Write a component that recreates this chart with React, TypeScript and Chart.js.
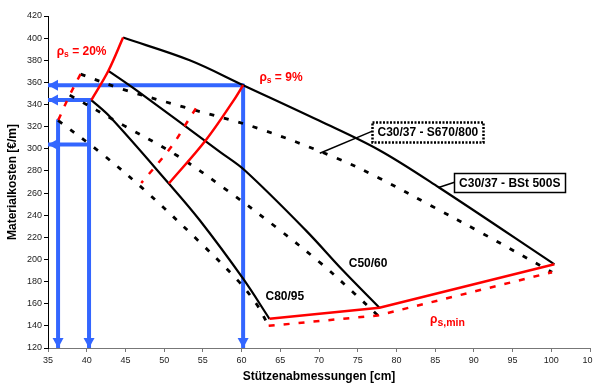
import React, { useEffect, useRef } from 'react';
import { Chart, registerables } from 'chart.js';

Chart.register(...registerables);

const FONT = "'Liberation Sans', Arial, Helvetica, sans-serif";
const RED = '#ff0000';
const BLUE = '#3366ff';

// Tick labels
const xTickValues = [35, 40, 45, 50, 55, 60, 65, 70, 75, 80, 85, 90, 95, 100, 105];
const yTickValues = [120, 140, 160, 180, 200, 220, 240, 260, 280, 300, 320, 340, 360, 380, 400, 420];

// C30/37 - BSt 500S (solid)
const c30BstX = [44.7, 53.3, 60.2, 70.0, 77.8, 85.5, 100.4];
const c30BstY = [400.5, 380.0, 357.5, 325.5, 298.7, 265.0, 195.6];
// C50/60 - BSt 500S (solid)
const c50BstX = [42.8, 46.4, 57.2, 60.4, 68.3, 73.1, 77.8];
const c50BstY = [370.5, 353.0, 297.2, 280.6, 226.3, 190.0, 156.4];
// C80/95 - BSt 500S (solid)
const c80BstX = [40.6, 43.0, 50.6, 54.6, 60.2, 63.6];
const c80BstY = [344.0, 328.9, 268.6, 235.4, 182.6, 146.4];

// C30/37 - S670/800 (dashed)
const c30SX = [39.2, 44.6, 52.6, 62.1, 72.3, 77.8, 84.6, 91.1, 100.1];
const c30SY = [367.5, 353.9, 337.6, 318.6, 291.5, 273.4, 248.1, 223.6, 188.5];
// C50/60 - S670/800 (dashed)
const c50SX = [37.8, 44.7, 51.6, 58.0, 64.3, 70.3, 74.6, 77.6];
const c50SY = [348.5, 321.4, 294.2, 263.2, 230.0, 196.2, 169.1, 149.4];
// C80/95 - S670/800 (dashed)
const c80SX = [36.3, 41.7, 47.5, 54.8, 59.5, 61.9, 63.5];
const c80SY = [325.6, 297.0, 262.5, 214.3, 181.1, 160.0, 140.0];

// Reinforcement ratio curves
const rho20BstX = [44.7, 42.8, 40.6];
const rho20BstY = [400.5, 370.5, 344.0];
const rho20SX = [39.2, 37.8, 36.3];
const rho20SY = [367.5, 348.5, 325.6];
const rho9BstX = [60.2, 59.0, 55.4, 50.6];
const rho9BstY = [357.5, 344.0, 308.0, 268.6];
const rho9SX = [54.1, 53.0, 50.9, 47.05];
const rho9SY = [336.5, 324.4, 301.6, 269.1];
const rhoMinBstX = [63.6, 77.8, 100.4];
const rhoMinBstY = [146.4, 156.4, 195.6];
const rhoMinSX = [63.5, 77.6, 100.1];
const rhoMinSY = [140.0, 149.4, 188.5];

// Blue reading arrows (from curve point to axis)
const arrowStartX = [60.2, 60.2, 40.6, 40.3, 40.3, 36.3];
const arrowStartY = [357.5, 357.5, 344.0, 344.0, 303.9, 325.6];
const arrowEndX = [35, 60.2, 35, 40.3, 35, 36.3];
const arrowEndY = [357.5, 120, 344.0, 120, 303.9, 120];

// Leader lines for the boxed labels
const leaderBox1X = [70.1, 76.9];
const leaderBox1Y = [296.0, 316.0];
const leaderBox2X = [85.45, 87.5];
const leaderBox2Y = [265.0, 269.8];

const pts = (xs: number[], ys: number[]) => xs.map((x, i) => ({ x, y: ys[i] }));

type Part = { t: string; s: number; dy?: number };
const textLabels: { x: number; y: number; color: string; parts: Part[] }[] = [
  { x: 36.12, y: 387.4, color: RED, parts: [{ t: 'ρ', s: 12 }, { t: 's', s: 8.5, dy: 3 }, { t: ' = 20%', s: 12 }] },
  { x: 62.3, y: 363.9, color: RED, parts: [{ t: 'ρ', s: 12 }, { t: 's', s: 8.5, dy: 3 }, { t: ' = 9%', s: 12 }] },
  { x: 73.84, y: 196.2, color: '#000', parts: [{ t: 'C50/60', s: 12 }] },
  { x: 63.09, y: 166.0, color: '#000', parts: [{ t: 'C80/95', s: 12 }] },
  { x: 84.34, y: 145.5, color: RED, parts: [{ t: 'ρ', s: 12 }, { t: 's,min', s: 10.5, dy: 3 }] },
];

const boxLabels = [
  { x: 84.06, y: 315.0, text: 'C30/37 - S670/800', w: 111, h: 20, dotted: true },
  { x: 94.64, y: 269.3, text: 'C30/37 - BSt 500S', w: 111, h: 19, dotted: false },
];

const annotationPlugin = {
  id: 'annotations',
  afterDatasetsDraw(chart: any) {
    const { ctx, scales } = chart;
    const xs = scales.x;
    const ys = scales.y;
    ctx.save();
    // arrow heads
    chart.data.datasets.forEach((ds: any, i: number) => {
      if (!ds.arrowHead) return;
      const meta = chart.getDatasetMeta(i);
      const d = meta.data;
      const a = d[d.length - 1];
      const b = d[d.length - 2];
      const ang = Math.atan2(a.y - b.y, a.x - b.x);
      const len = 10;
      const hw = 5.5;
      ctx.fillStyle = ds.borderColor;
      ctx.beginPath();
      ctx.moveTo(a.x, a.y);
      ctx.lineTo(a.x - len * Math.cos(ang) + hw * Math.sin(ang), a.y - len * Math.sin(ang) - hw * Math.cos(ang));
      ctx.lineTo(a.x - len * Math.cos(ang) - hw * Math.sin(ang), a.y - len * Math.sin(ang) + hw * Math.cos(ang));
      ctx.closePath();
      ctx.fill();
    });
    // boxes
    for (const b of boxLabels) {
      const cx = xs.getPixelForValue(b.x);
      const cy = ys.getPixelForValue(b.y);
      const l = Math.round(cx - b.w / 2) + 0.5;
      const t = Math.round(cy - b.h / 2) + 0.5;
      ctx.fillStyle = '#fff';
      ctx.fillRect(l, t, b.w, b.h);
      ctx.strokeStyle = '#000';
      if (b.dotted) {
        ctx.lineWidth = 2.5;
        ctx.setLineDash([2, 1.5]);
      } else {
        ctx.lineWidth = 1.5;
        ctx.setLineDash([]);
      }
      ctx.strokeRect(l, t, b.w, b.h);
      ctx.setLineDash([]);
      ctx.fillStyle = '#000';
      ctx.font = `bold 12px ${FONT}`;
      ctx.textAlign = 'center';
      ctx.textBaseline = 'middle';
      ctx.fillText(b.text, cx, cy + 0.5);
    }
    // text labels
    ctx.textAlign = 'left';
    ctx.textBaseline = 'middle';
    for (const lab of textLabels) {
      let px = xs.getPixelForValue(lab.x);
      const py = ys.getPixelForValue(lab.y);
      ctx.fillStyle = lab.color;
      for (const p of lab.parts) {
        ctx.font = `bold ${p.s}px ${FONT}`;
        ctx.fillText(p.t, px, py + (p.dy || 0));
        px += ctx.measureText(p.t).width;
      }
    }
    ctx.restore();
  },
};

export default function App() {
  const ref = useRef<HTMLCanvasElement | null>(null);
  useEffect(() => {
    document.body.style.margin = '0';
    const canvas = ref.current;
    if (!canvas) return;

    const solid = (xs: number[], ys: number[], color: string, width: number, tension = 0) => ({
      data: pts(xs, ys), borderColor: color, backgroundColor: color, borderWidth: width,
      showLine: true, fill: false, pointRadius: 0, tension,
    });
    const dashed = (xs: number[], ys: number[], color: string, width: number, dash: number[], tension = 0) => ({
      ...solid(xs, ys, color, width, tension), borderDash: dash,
    });

    const arrows = arrowStartX.map((sx, i) => ({
      ...solid([sx, arrowEndX[i]], [arrowStartY[i], arrowEndY[i]], BLUE, 4),
      arrowHead: true,
    }));

    const T = 0.35;
    const datasets: any[] = [
      solid(rho20BstX, rho20BstY, RED, 2.5, T),
      dashed(rho20SX, rho20SY, RED, 2.5, [6, 9], T),
      solid(rho9BstX, rho9BstY, RED, 2.5, T),
      dashed(rho9SX, rho9SY, RED, 2.5, [6, 9], T),
      solid(rhoMinBstX, rhoMinBstY, RED, 2.5),
      dashed(rhoMinSX, rhoMinSY, RED, 2.5, [6, 9]),
      solid(leaderBox1X, leaderBox1Y, '#000', 1.5),
      solid(leaderBox2X, leaderBox2Y, '#000', 1.5),
      solid(c30BstX, c30BstY, '#000', 2.2, T),
      solid(c50BstX, c50BstY, '#000', 2.2, T),
      solid(c80BstX, c80BstY, '#000', 2.2, T),
      dashed(c30SX, c30SY, '#000', 2.8, [5, 10], T),
      dashed(c50SX, c50SY, '#000', 2.8, [5, 10], T),
      dashed(c80SX, c80SY, '#000', 2.8, [5, 10], T),
      ...arrows,
    ];

    const tickFont = { family: FONT, size: 9 };
    const titleFont = { family: FONT, size: 12, weight: 'bold' as const, lineHeight: 1 };

    const chart = new Chart(canvas, {
      type: 'scatter',
      data: { datasets },
      plugins: [annotationPlugin],
      options: {
        animation: false,
        responsive: false,
        maintainAspectRatio: false,
        layout: { padding: { top: 16, right: 3, left: 0, bottom: 0 } },
        plugins: { legend: { display: false }, tooltip: { enabled: false } },
        elements: {
          point: { radius: 0, hoverRadius: 0 },
          line: { borderCapStyle: 'butt', borderJoinStyle: 'round' },
        },
        scales: {
          x: {
            type: 'linear', min: 35, max: 105,
            afterBuildTicks: (s: any) => { s.ticks = xTickValues.map((v) => ({ value: v })); },
            afterFit: (s: any) => { s.height = 35; s.paddingLeft = 0; s.paddingRight = 0; },
            grid: { drawOnChartArea: false, drawTicks: true, tickLength: 4, color: '#777' },
            border: { color: '#777', width: 1 },
            ticks: { font: tickFont, color: '#222', padding: 3, maxRotation: 0, autoSkip: false },
            title: { display: true, text: 'Stützenabmessungen [cm]', font: titleFont, color: '#000', padding: { top: 0, bottom: 0 } },
          },
          y: {
            type: 'linear', min: 120, max: 420,
            afterBuildTicks: (s: any) => { s.ticks = yTickValues.map((v) => ({ value: v })); },
            afterFit: (s: any) => { s.width = 48; s.paddingTop = 0; s.paddingBottom = 0; },
            grid: { drawOnChartArea: false, drawTicks: true, tickLength: 4, color: '#000' },
            border: { color: '#000', width: 1 },
            ticks: { font: tickFont, color: '#222', padding: 2, autoSkip: false },
            title: { display: true, text: 'Materialkosten [€/m]', font: titleFont, color: '#000', padding: { top: 7, bottom: 0 } },
          },
        },
      } as any,
    });
    return () => chart.destroy();
  }, []);

  return <canvas ref={ref} width={593} height={383} style={{ display: 'block', width: 593, height: 383 }} />;
}
